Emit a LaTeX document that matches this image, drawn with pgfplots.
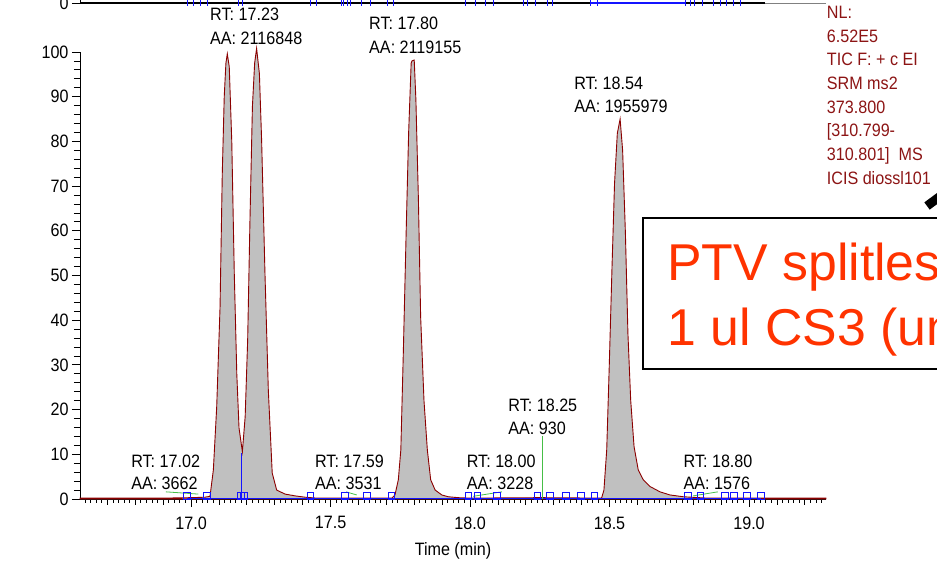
\documentclass[border=0pt]{standalone}
\usepackage{pgfplots}
\pgfplotsset{compat=1.18}
\usepackage{fontspec}
\setmainfont{Liberation Sans}[FakeStretch=0.9]
\newfontfamily\boxfont{Liberation Sans}
\definecolor{peakred}{RGB}{139,0,0}
\definecolor{infored}{RGB}{140,20,20}
\definecolor{boxred}{RGB}{255,51,0}
\definecolor{fillgray}{RGB}{192,192,192}
\definecolor{leadgreen}{RGB}{70,190,70}
\definecolor{intblue}{RGB}{20,20,255}
\newcommand{\lbl}{\fontsize{18}{20}\selectfont}
\pgfplotstableread{
t v
16.602 0.2
16.90 0.2
17.00 0.3
17.05 0.4
17.068 0.6
17.080 6.5
17.092 20.6
17.104 43
17.112 72.9
17.119 90
17.125 97.5
17.130 99.6
17.137 96.7
17.146 80
17.155 50.5
17.164 28
17.172 15.9
17.184 10.6
17.194 18.4
17.203 35.6
17.211 61.7
17.220 87.8
17.228 97.5
17.235 100.8
17.245 95.2
17.253 80.3
17.265 50.5
17.277 24.4
17.291 5.8
17.307 2.0
17.337 1.1
17.373 0.7
17.409 0.4
17.45 0.2
17.72 0.2
17.731 0.9
17.743 4.3
17.752 11
17.761 33
17.771 59.5
17.780 82
17.789 97.5
17.792 98
17.800 98.2
17.806 89.3
17.815 67
17.823 40.8
17.835 22
17.847 11
17.859 4.3
17.875 2
17.899 0.9
17.922 0.5
17.957 0.3
18.00 0.2
18.25 0.3
18.47 0.2
18.472 0.3
18.480 2
18.490 11
18.499 29.6
18.509 52
18.518 70.6
18.528 81.8
18.538 85
18.547 78
18.557 59.4
18.566 37
18.576 22
18.588 11.7
18.603 6.5
18.621 4.3
18.645 2.8
18.681 1.6
18.717 0.9
18.765 0.5
18.85 0.2
19.276 0.2
}\chrom
\begin{document}
\begin{tikzpicture}
\useasboundingbox (0,0) rectangle (937bp,562bp);
\clip (0,0) rectangle (937bp,562bp);
% upper (cropped) chromatogram
\begin{axis}[
  at={(80bp,559bp)}, anchor=south west,
  scale only axis, width=746bp, height=447bp,
  xmin=16.602, xmax=19.276, ymin=0, ymax=100,
  axis x line=bottom, axis y line=left,
  axis line style={-, line width=0.8bp},
  x axis line style={gray},
  xtick=\empty, ytick={0},
  tick align=outside, major tick length=8bp,
  tick style={black, line width=0.8bp},
  ticklabel style={font=\lbl},
  /pgf/number format/assume math mode=true,
  clip=false,
]
\addplot[black, line width=1.3bp] coordinates {(16.602,0) (19.057,0)};
\addplot[intblue, line width=1.3bp] coordinates {(18.430,0) (18.771,0)};
\addplot[intblue, only marks, mark=|, mark size=3bp, mark options={line width=0.8bp}] coordinates {
(16.986,0) (17.007,0) (17.032,0) (17.057,0) (17.168,0) (17.183,0) (17.427,0) (17.448,0)
(17.538,0) (17.545,0) (17.559,0) (17.573,0) (17.609,0) (17.642,0) (17.703,0) (17.724,0)
(17.982,0) (18.018,0) (18.054,0) (18.082,0) (18.190,0) (18.204,0) (18.233,0) (18.276,0)
(18.297,0) (18.430,0) (18.455,0) (18.771,0) (18.789,0) (18.806,0) (18.832,0) (18.871,0)
(18.896,0) (18.918,0) (18.943,0) (18.968,0)};
\end{axis}
% main chromatogram
\begin{axis}[
  at={(80bp,63bp)}, anchor=south west,
  scale only axis, width=746bp, height=447bp,
  xmin=16.602, xmax=19.276, ymin=0, ymax=100,
  axis x line=bottom, axis y line=left,
  axis line style={-, line width=0.8bp},
  tick align=outside,
  xtick={17,17.5,18,18.5,19},
  xticklabels={17.0,17.5,18.0,18.5,19.0},
  xticklabel style={yshift=-6bp},
  minor xtick={16.7,16.8,16.9,17.1,17.2,17.3,17.4,17.6,17.7,17.8,17.9,18.1,18.2,18.3,18.4,18.6,18.7,18.8,18.9,19.1,19.2},
  extra x ticks={16.62,16.64,...,19.27},
  extra x tick labels={},
  extra x tick style={major tick length=4bp},
  ytick={0,10,...,100}, minor y tick num=4,
  major tick length=8bp, minor tick length=6bp,
  tick style={black, line width=0.8bp},
  ticklabel style={font=\lbl},
  /pgf/number format/assume math mode=true,
  xlabel={Time (min)},
  xlabel style={font=\lbl, at={(axis description cs:0.5,0)}, anchor=center, yshift=-52bp},
  clip=false,
]
\addplot[draw=peakred, line width=0.9bp, fill=fillgray] table[x=t,y=v] {\chrom} \closedcycle;
\addplot[intblue, line width=1.2bp] coordinates {(16.985,0.05) (19.042,0.05)};
\addplot[intblue, line width=1.2bp] coordinates {(17.182,0) (17.182,10.4)};
\addplot[intblue, only marks, mark=square, mark size=3.3bp, mark options={fill=none, line width=0.8bp}] coordinates {
(16.985,0.7) (17.056,0.7) (17.178,0.7) (17.190,0.7) (17.428,0.7) (17.552,0.7) (17.631,0.7) (17.718,0.7)
(17.994,0.7) (18.026,0.7) (18.096,0.7) (18.241,0.7) (18.287,0.7) (18.344,0.7) (18.397,0.7) (18.446,0.7)
(18.782,0.7) (18.826,0.7) (18.914,0.7) (18.946,0.7) (18.992,0.7) (19.042,0.7)};
% leader lines
\addplot[leadgreen, line width=0.8bp] coordinates {(16.910,1.6) (17.026,1.1)};
\addplot[leadgreen, line width=0.8bp] coordinates {(17.556,1.6) (17.594,0.9)};
\addplot[leadgreen, line width=0.8bp] coordinates {(18.011,0.6) (18.114,1.6)};
\addplot[leadgreen, line width=0.8bp] coordinates {(18.259,0) (18.259,14.1)};
\addplot[leadgreen, line width=0.8bp] coordinates {(18.800,0.7) (18.888,1.6)};
% peak labels
\begin{scope}[every node/.style={anchor=west, inner sep=0pt, font=\lbl}]
\node at (axis cs:17.068,108.5) {RT: 17.23};
\node at (axis cs:17.068,103.1) {AA: 2116848};
\node at (axis cs:17.638,106.4) {RT: 17.80};
\node at (axis cs:17.638,101.0) {AA: 2119155};
\node at (axis cs:18.373,93.1) {RT: 18.54};
\node at (axis cs:18.373,87.9) {AA: 1955979};
\node at (axis cs:16.785,8.35) {RT: 17.02};
\node at (axis cs:16.785,3.4) {AA: 3662};
\node at (axis cs:17.444,8.35) {RT: 17.59};
\node at (axis cs:17.444,3.4) {AA: 3531};
\node at (axis cs:17.988,8.35) {RT: 18.00};
\node at (axis cs:17.988,3.4) {AA: 3228};
\node at (axis cs:18.137,21.0) {RT: 18.25};
\node at (axis cs:18.137,15.8) {AA: 930};
\node at (axis cs:18.765,8.35) {RT: 18.80};
\node at (axis cs:18.765,3.4) {AA: 1576};
\end{scope}
\end{axis}
% info text
\begin{scope}[every node/.style={anchor=base west, inner sep=0pt, font=\fontsize{18}{20}\selectfont, text=infored}]
\node at (826.7bp,{(562-18.5)*1bp}) {NL:};
\node at (826.7bp,{(562-42.2)*1bp}) {6.52E5};
\node at (826.7bp,{(562-65.9)*1bp}) {TIC F: + c EI};
\node at (826.7bp,{(562-89.6)*1bp}) {SRM ms2};
\node at (826.7bp,{(562-113.3)*1bp}) {373.800};
\node at (826.7bp,{(562-137.0)*1bp}) {[310.799-};
\node at (826.7bp,{(562-160.7)*1bp}) {310.801]\ \ MS};
\node at (826.7bp,{(562-184.4)*1bp}) {ICIS diossl101};
\end{scope}
% annotation box and arrow
\draw[line width=2bp, black] (643bp,{(562-218)*1bp}) rectangle (960bp,{(562-369)*1bp});
\node[anchor=base west, inner sep=0pt, text=boxred, font=\boxfont\fontsize{52}{60}\selectfont] at (667bp,{(562-280)*1bp}) {PTV splitless};
\node[anchor=base west, inner sep=0pt, text=boxred, font=\boxfont\fontsize{52}{60}\selectfont] at (667bp,{(562-345)*1bp}) {1 ul CS3 (un};
\draw[line width=9bp, black] (927bp,{(562-206)*1bp}) -- (950bp,{(562-189)*1bp});
\end{tikzpicture}
\end{document}
